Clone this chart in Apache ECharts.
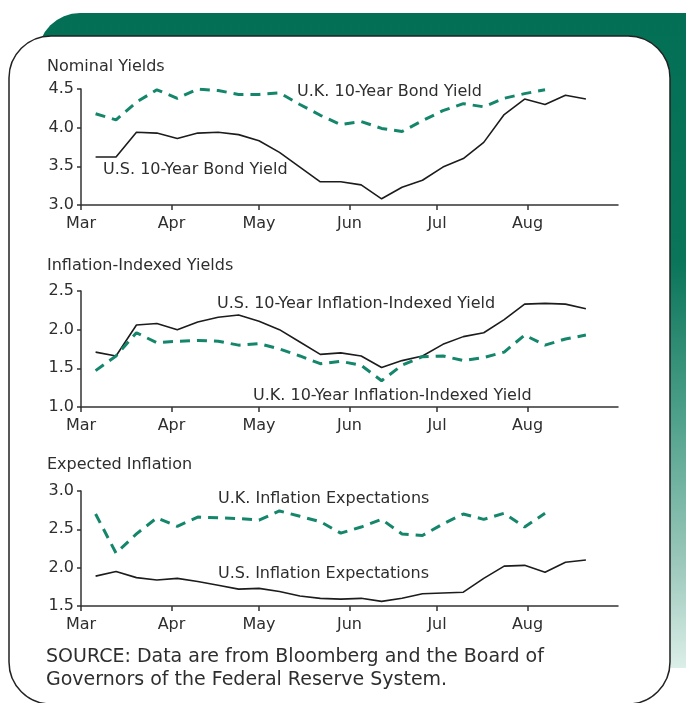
<!DOCTYPE html>
<html>
<head>
<meta charset="utf-8">
<script src="https://cdn.jsdelivr.net/npm/echarts@6/dist/echarts.min.js"></script>
<style>
  html, body { margin: 0; padding: 0; background: #fff; }
  #chart { width: 686px; height: 703px; }
</style>
</head>
<body>
<div id="chart"></div>
<script>
// weekly observations (2003)
const dates = [
  '2003-03-06', '2003-03-13', '2003-03-20', '2003-03-27', '2003-04-03',
  '2003-04-10', '2003-04-17', '2003-04-24', '2003-05-01', '2003-05-08',
  '2003-05-15', '2003-05-22', '2003-05-29', '2003-06-05', '2003-06-12',
  '2003-06-19', '2003-06-26', '2003-07-03', '2003-07-10', '2003-07-17',
  '2003-07-24', '2003-07-31', '2003-08-07', '2003-08-14', '2003-08-21'
];
const monthStarts = ['2003-03-01', '2003-04-01', '2003-05-01', '2003-06-01', '2003-07-01', '2003-08-01'];
const monthLabels = ['Mar', 'Apr', 'May', 'Jun', 'Jul', 'Aug'];
const axisEnd = '2003-09-01';

// Nominal yields
const usNominal = [3.62, 3.62, 3.94, 3.93, 3.86, 3.93, 3.94, 3.91, 3.83, 3.68,
  3.49, 3.30, 3.30, 3.26, 3.08, 3.23, 3.32, 3.49, 3.60, 3.81,
  4.17, 4.37, 4.30, 4.42, 4.37];
const ukNominal = [4.18, 4.10, 4.33, 4.49, 4.38, 4.50, 4.48, 4.43, 4.43, 4.45,
  4.30, 4.16, 4.04, 4.08, 3.99, 3.95, 4.09, 4.22, 4.31, 4.27,
  4.38, 4.44, 4.49];

// Inflation-indexed yields
const usIndexed = [1.71, 1.66, 2.06, 2.08, 2.00, 2.10, 2.16, 2.19, 2.11, 2.00,
  1.84, 1.68, 1.70, 1.66, 1.51, 1.60, 1.66, 1.81, 1.91, 1.96,
  2.13, 2.33, 2.34, 2.33, 2.27];
const ukIndexed = [1.47, 1.66, 1.96, 1.83, 1.85, 1.86, 1.85, 1.80, 1.82, 1.75,
  1.66, 1.56, 1.59, 1.54, 1.34, 1.54, 1.65, 1.66, 1.60, 1.64,
  1.71, 1.93, 1.80, 1.88, 1.93];

// Expected inflation
const usExpected = [1.89, 1.95, 1.87, 1.84, 1.86, 1.82, 1.77, 1.72, 1.73, 1.69,
  1.63, 1.60, 1.59, 1.60, 1.56, 1.60, 1.66, 1.67, 1.68, 1.86,
  2.02, 2.03, 1.94, 2.07, 2.10];
const ukExpected = [2.70, 2.19, 2.44, 2.65, 2.54, 2.66, 2.65, 2.64, 2.62, 2.74,
  2.67, 2.60, 2.45, 2.53, 2.63, 2.44, 2.42, 2.57, 2.70, 2.63,
  2.71, 2.53, 2.71];

const FONT = 'DejaVu Sans';
const TXT = '#2e2e2e';
const US_COLOR = '#1c1c1c';
const UK_COLOR = '#13866b';

const day0 = Date.parse(monthStarts[0]);
const toDay = (d) => Math.round((Date.parse(d) - day0) / 86400000);
const monthDays = monthStarts.map(toDay);
const pairs = (vals) => vals.map((v, i) => [toDay(dates[i]), v]);

const grids = [
  { left: 81, top: 89, width: 537, height: 116 },
  { left: 81, top: 291, width: 537, height: 116 },
  { left: 81, top: 491, width: 537, height: 115 }
];

const yRanges = [[3.0, 4.5], [1.0, 2.5], [1.5, 3.0]];

const xAxes = grids.map((g, i) => ({
  type: 'value',
  gridIndex: i,
  min: 0,
  max: toDay(axisEnd),
  axisLine: { show: true, lineStyle: { color: '#333', width: 1.5 } },
  axisTick: { show: true, length: 5, customValues: monthDays, lineStyle: { color: '#333', width: 1.5 } },
  axisLabel: {
    customValues: monthDays,
    margin: 11,
    color: TXT, fontFamily: FONT, fontSize: 16,
    formatter: (v) => monthLabels[monthDays.indexOf(v)] || ''
  },
  splitLine: { show: false }
}));

const yAxes = grids.map((g, i) => ({
  type: 'value',
  gridIndex: i,
  min: yRanges[i][0],
  max: yRanges[i][1],
  interval: 0.5,
  axisLine: { show: true, lineStyle: { color: '#333', width: 1.5 } },
  axisTick: { show: true, length: 4, lineStyle: { color: '#333', width: 1.5 } },
  axisLabel: {
    margin: 7, color: TXT, fontFamily: FONT, fontSize: 16,
    formatter: (v) => v.toFixed(1)
  },
  splitLine: { show: false }
}));

const usLine = (vals, idx) => ({
  type: 'line', xAxisIndex: idx, yAxisIndex: idx, data: pairs(vals),
  symbol: 'none', smooth: false, z: 3,
  lineStyle: { color: US_COLOR, width: 1.6 }
});
const ukLine = (vals, idx) => ({
  type: 'line', xAxisIndex: idx, yAxisIndex: idx, data: pairs(vals),
  symbol: 'none', smooth: false, z: 4,
  lineStyle: { color: UK_COLOR, width: 3, type: [10, 7] }
});

const label = (text, x, y, size) => ({
  type: 'text', z: 10,
  style: { text, x, y, fill: TXT, fontFamily: FONT, fontSize: size || 16, verticalAlign: 'middle' }
});

const chart = echarts.init(document.getElementById('chart'), null, { renderer: 'canvas' });
chart.setOption({
  animation: false,
  backgroundColor: '#fff',
  grid: grids,
  xAxis: xAxes,
  yAxis: yAxes,
  series: [
    usLine(usNominal, 0), ukLine(ukNominal, 0),
    usLine(usIndexed, 1), ukLine(ukIndexed, 1),
    usLine(usExpected, 2), ukLine(ukExpected, 2)
  ],
  graphic: [
    {
      type: 'rect', z: -2, silent: true,
      shape: { x: 38, y: 13, width: 690, height: 655, r: 42 },
      style: {
        fill: {
          type: 'linear', x: 0, y: 0, x2: 0, y2: 1,
          colorStops: [
            { offset: 0, color: '#036f54' },
            { offset: 0.38, color: '#0a7559' },
            { offset: 0.62, color: '#4fa18b' },
            { offset: 0.85, color: '#9fcabd' },
            { offset: 1, color: '#dcefe9' }
          ]
        }
      }
    },
    {
      type: 'rect', z: -1, silent: true,
      shape: { x: 9, y: 36, width: 661, height: 668, r: 42 },
      style: { fill: '#fff', stroke: '#222', lineWidth: 1.5 }
    },
    label('Nominal Yields', 47, 67),
    label('Inflation-Indexed Yields', 47, 266),
    label('Expected Inflation', 47, 465),
    label('U.K. 10-Year Bond Yield', 297, 92),
    label('U.S. 10-Year Bond Yield', 103, 170),
    label('U.S. 10-Year Inflation-Indexed Yield', 217, 304),
    label('U.K. 10-Year Inflation-Indexed Yield', 253, 396),
    label('U.K. Inflation Expectations', 218, 499),
    label('U.S. Inflation Expectations', 218, 574),
    label('SOURCE: Data are from Bloomberg and the Board of', 46, 657, 19),
    label('Governors of the Federal Reserve System.', 46, 680, 19)
  ]
});
</script>
</body>
</html>
